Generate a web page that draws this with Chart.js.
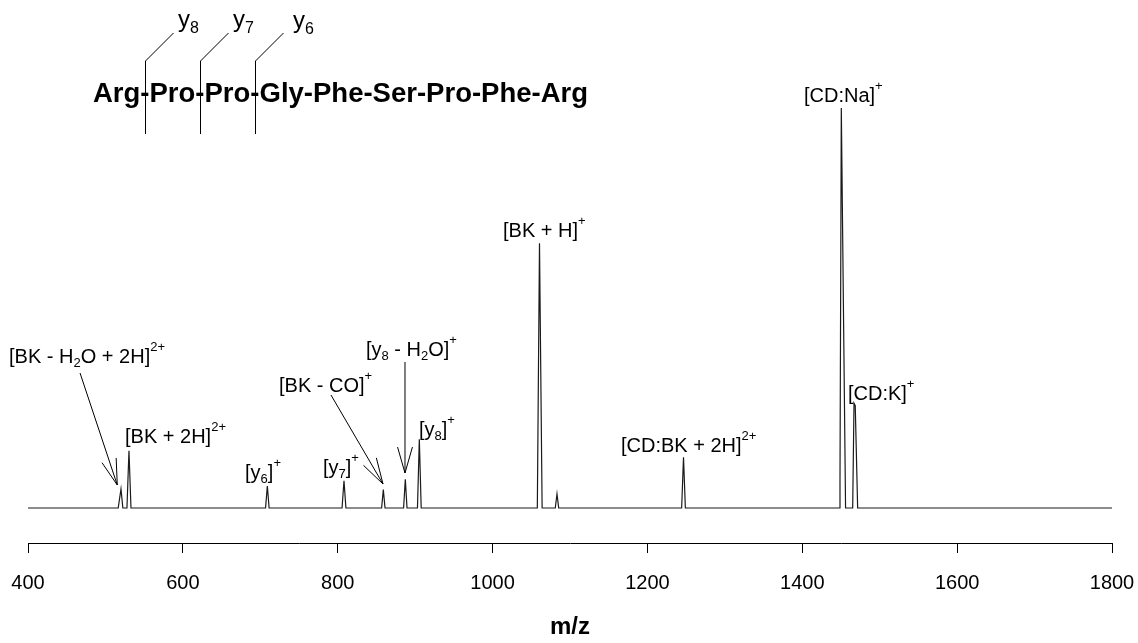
<!DOCTYPE html>
<html><head><meta charset="utf-8">
<script src="https://cdn.jsdelivr.net/npm/chart.js@4.4.1/dist/chart.umd.min.js"></script>
<style>html,body{margin:0;padding:0;background:#fff}#wrap{width:1138px;height:643px;position:relative}</style>
</head><body><div id="wrap"><canvas id="c" width="1138" height="643"></canvas></div>
<script>
// ---- data (m/z vs relative intensity) ----
const mzValues = [400, 516.5, 520.1, 522.5, 527.8, 530.4, 533.0, 706.8, 709.1, 711.4, 805.6, 808.1, 810.6,
  856.7, 858.9, 861.1, 885.1, 887.3, 889.5, 903.0, 905.4, 907.8, 1057.8, 1060.6, 1064.0,
  1081.0, 1083.2, 1085.4, 1244.2, 1246.6, 1249.0, 1447.8, 1448.7, 1450.4, 1455.9,
  1465.1, 1466.8, 1468.4, 1471.5, 1800];
const intensities = [0, 0, 4.75, 0, 0, 14.3, 0, 0, 5.5, 0, 0, 6.8, 0,
  0, 4.6, 0, 0, 7.2, 0, 0, 17.2, 0, 0, 66.2, 0,
  0, 3.5, 0, 0, 12.7, 0, 0, 6.5, 100, 0,
  0, 26.2, 25.6, 0, 0];
const xTickValues = [400, 600, 800, 1000, 1200, 1400, 1600, 1800];
const xTitle = 'm/z';
const peptide = 'Arg-Pro-Pro-Gly-Phe-Ser-Pro-Phe-Arg';
const fragmentNames = ['y_{8}', 'y_{7}', 'y_{6}'];
const peakLabelTexts = ['[BK - H_{2}O + 2H]^{2+}', '[BK + 2H]^{2+}', '[y_{6}]^{+}', '[y_{7}]^{+}', '[BK - CO]^{+}',
  '[y_{8} - H_{2}O]^{+}', '[y_{8}]^{+}', '[BK + H]^{+}', '[CD:BK + 2H]^{2+}', '[CD:Na]^{+}', '[CD:K]^{+}'];
// label anchors (left edge m/z, baseline intensity)
const labelMz = [375.5, 525.3, 680.3, 781.0, 724.2, 836.5, 905.0, 1013.5, 1165.9, 1402.2, 1459.0];
const labelI  = [36.25, 16.25, 7.25, 8.4, 28.9, 38.0, 18.0, 67.75, 14.0, 101.5, 27.0];
// arrows: start and tip in data coordinates
const arrowStartMz = [467.2, 791.3, 886.9];
const arrowStartI  = [33.75, 28.25, 36.5];
const arrowTipMz   = [515.3, 858.5, 886.9];
const arrowTipI    = [5.75, 6.0, 8.75];

const FONT = '"Liberation Sans", Arial, Helvetica, sans-serif';

function parseRich(str) {
  const segs = []; const re = /(\^\{[^}]*\}|_\{[^}]*\})/g;
  let last = 0, m;
  while ((m = re.exec(str))) {
    if (m.index > last) segs.push({t: str.slice(last, m.index), k: 'n'});
    segs.push({t: m[0].slice(2, -1), k: m[0][0] === '^' ? 'sup' : 'sub'});
    last = re.lastIndex;
  }
  if (last < str.length) segs.push({t: str.slice(last), k: 'n'});
  return segs;
}
function drawRich(ctx, str, x, y, size, subDrop, supRise) {
  let cx = x;
  for (const s of parseRich(str)) {
    const f = s.k === 'n' ? size : Math.round(size * 0.66);
    ctx.font = f + 'px ' + FONT;
    const dy = s.k === 'sup' ? -supRise : (s.k === 'sub' ? subDrop : 0);
    ctx.fillText(s.t, cx, y + dy);
    cx += ctx.measureText(s.t).width;
  }
}
function line(ctx, x1, y1, x2, y2) { ctx.beginPath(); ctx.moveTo(x1, y1); ctx.lineTo(x2, y2); ctx.stroke(); }

const annot = {
  id: 'annot',
  afterDraw(chart) {
    const ctx = chart.ctx, xs = chart.scales.x, ys = chart.scales.y;
    ctx.save();
    ctx.fillStyle = '#000'; ctx.strokeStyle = '#000'; ctx.lineWidth = 1;
    ctx.textBaseline = 'alphabetic'; ctx.textAlign = 'left';
    // peptide header
    const px0 = 93, pBase = 102;
    ctx.font = 'bold 27.5px ' + FONT;
    ctx.fillText(peptide, px0, pBase);
    const idx = []; for (let i = 0; i < peptide.length && idx.length < 3; i++) if (peptide[i] === '-') idx.push(i);
    const fragX = [178, 233, 293], fragY = [27, 27, 28];
    idx.forEach((ii, k) => {
      const hx = Math.round(px0 + ctx.measureText(peptide.slice(0, ii)).width + ctx.measureText('-').width / 2) + 0.5;
      line(ctx, hx, 61, hx, 134);
      line(ctx, hx, 61, hx + 28, 33);
    });
    fragmentNames.forEach((t, k) => drawRich(ctx, t, fragX[k], fragY[k], 24, 6, 12));
    // peak labels
    peakLabelTexts.forEach((t, k) => {
      drawRich(ctx, t, xs.getPixelForValue(labelMz[k]), ys.getPixelForValue(labelI[k]), 20, 4, 12);
    });
    // arrows (open heads)
    for (let k = 0; k < arrowTipMz.length; k++) {
      const x1 = xs.getPixelForValue(arrowStartMz[k]), y1 = ys.getPixelForValue(arrowStartI[k]);
      const x2 = xs.getPixelForValue(arrowTipMz[k]), y2 = ys.getPixelForValue(arrowTipI[k]);
      line(ctx, x1, y1, x2, y2);
      const a = Math.atan2(y1 - y2, x1 - x2), L = 27, h = 16 * Math.PI / 180;
      line(ctx, x2, y2, x2 + L * Math.cos(a - h), y2 + L * Math.sin(a - h));
      line(ctx, x2, y2, x2 + L * Math.cos(a + h), y2 + L * Math.sin(a + h));
    }
    ctx.restore();
  }
};

const points = mzValues.map((m, i) => ({x: m, y: intensities[i]}));

new Chart(document.getElementById('c'), {
  type: 'line',
  data: { datasets: [{ data: points, borderColor: '#1a1a1a', borderWidth: 1.2, pointRadius: 0, tension: 0, fill: false }] },
  options: {
    responsive: false, animation: false, devicePixelRatio: 1,
    layout: { padding: { left: 28, right: 26, top: 28, bottom: 0 } },
    plugins: { legend: { display: false }, tooltip: { enabled: false } },
    scales: {
      x: {
        type: 'linear', min: 400, max: 1800,
        afterBuildTicks: (ax) => { ax.ticks = xTickValues.map(v => ({value: v})); },
        afterFit: (ax) => { ax.height = 100; ax.paddingLeft = 0; ax.paddingRight = 0; },
        border: { display: true, color: '#000', width: 1 },
        grid: { display: true, drawOnChartArea: false, drawTicks: true, tickLength: 10, color: '#000', lineWidth: 1 },
        ticks: { color: '#000', font: { size: 20, family: FONT }, padding: 18, maxRotation: 0, autoSkip: false,
                 callback: (v) => String(v) },
        title: { display: true, text: xTitle, color: '#000', font: { size: 24, weight: 'bold', family: FONT }, padding: { top: 0, bottom: 1 } }
      },
      y: { display: false, min: -8.75, max: 120 }
    }
  },
  plugins: [annot]
});
</script></body></html>
